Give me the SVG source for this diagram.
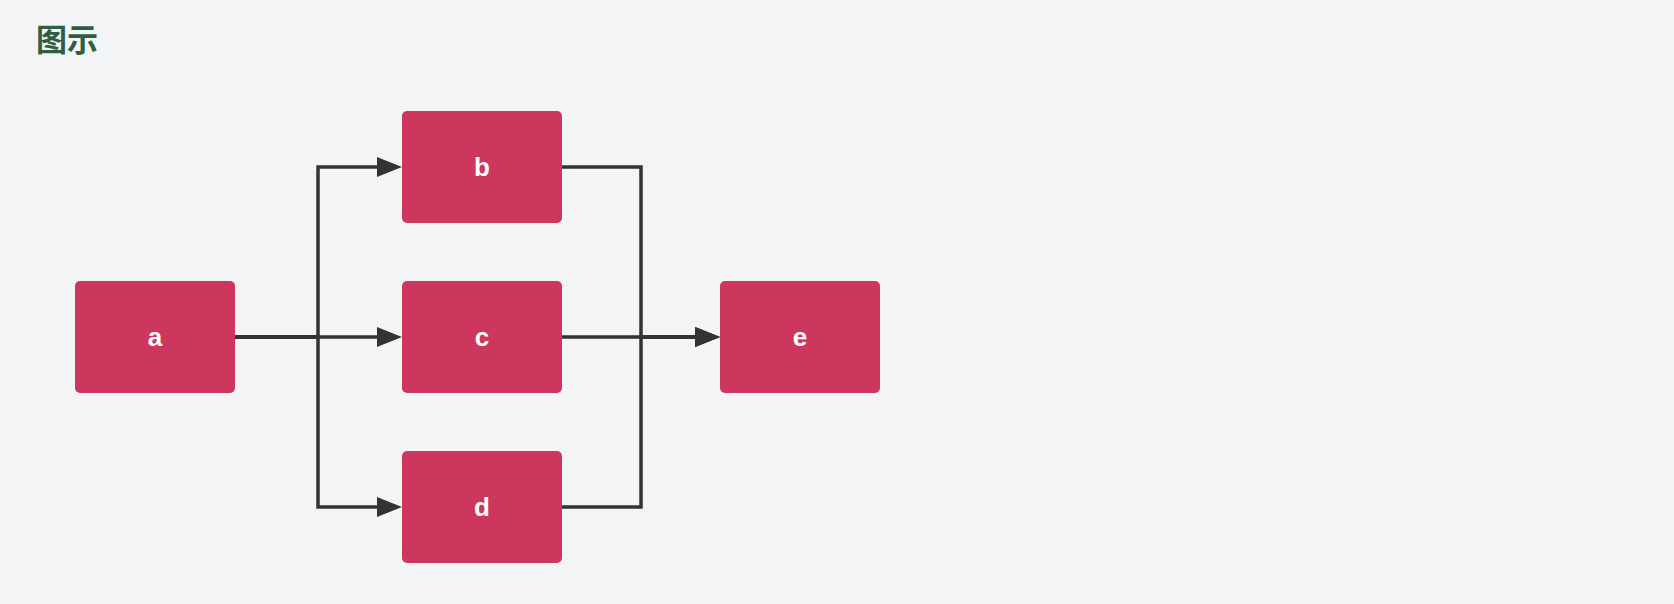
<svg xmlns="http://www.w3.org/2000/svg" width="1674" height="604" viewBox="0 0 1674 604">
  <style>
    .node rect { fill: #ce375d; }
    .node text { fill: #ffffff; font-family: "Liberation Sans", Arial, sans-serif; font-weight: bold; font-size: 26px; text-anchor: middle; dominant-baseline: central; }
    .edge { fill: none; stroke: #333333; stroke-width: 3.5; marker-end: url(#arrow); }
    .title { fill: #2e5e44; font-family: "Noto Sans CJK SC", sans-serif; font-weight: bold; font-size: 31px; }
  </style>
  <defs>
    <marker id="arrow" markerUnits="userSpaceOnUse" markerWidth="26" markerHeight="22" refX="1" refY="11" orient="auto">
      <path d="M0,1 L25,11 L0,21 Z" fill="#333333"/>
    </marker>
  </defs>
  <rect x="0" y="0" width="1674" height="604" fill="#f3f4f6"/>
  <text class="title" x="36" y="51">图示</text>
  <g id="connectors">
    <path class="edge" d="M235,337 H318 V167 H378"/>
    <path class="edge" d="M235,337 H378"/>
    <path class="edge" d="M235,337 H318 V507 H378"/>
    <path class="edge" d="M562,167 H641 V337 H696"/>
    <path class="edge" d="M562,337 H696"/>
    <path class="edge" d="M562,507 H641 V337 H696"/>
  </g>
  <g id="node-a" class="node"><rect x="75" y="281" width="160" height="112" rx="5"/><text x="155" y="337">a</text></g>
  <g id="node-b" class="node"><rect x="402" y="111" width="160" height="112" rx="5"/><text x="482" y="167">b</text></g>
  <g id="node-c" class="node"><rect x="402" y="281" width="160" height="112" rx="5"/><text x="482" y="337">c</text></g>
  <g id="node-d" class="node"><rect x="402" y="451" width="160" height="112" rx="5"/><text x="482" y="507">d</text></g>
  <g id="node-e" class="node"><rect x="720" y="281" width="160" height="112" rx="5"/><text x="800" y="337">e</text></g>
</svg>
